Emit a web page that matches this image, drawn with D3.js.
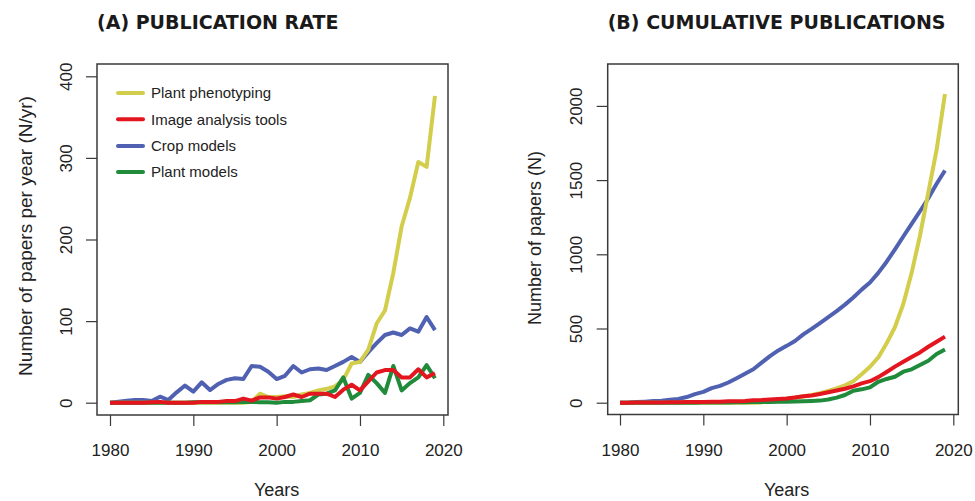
<!DOCTYPE html>
<html>
<head>
<meta charset="utf-8">
<script src="https://cdn.jsdelivr.net/npm/d3@7"></script>
<style>
  body { margin: 0; background: #fff; }
  svg { display: block; }
  text { font-family: "Liberation Sans", Arial, sans-serif; fill: #222; }
  .title { font-family: "DejaVu Sans", Verdana, sans-serif; font-weight: bold; font-size: 19px; fill: #1a1a1a; }
</style>
</head>
<body>
<div id="chart"></div>
<script>
// Years on the x axis.
var years = d3.range(1980, 2020);

// Series names, in legend order.
var seriesNames = ['Plant phenotyping', 'Image analysis tools', 'Crop models', 'Plant models'];
var seriesColors = ['#d3cd4c', '#e3151f', '#5061b1', '#1f8b3b'];

// (A) papers per year, 1980..2019.
var rateA = [
  // Plant phenotyping
  [0,0,0,0,0,0,0,0,0,0, 0,0,0,0,0,0,0,1,11,7, 7,8,7,10,12,15,17,20,28,48, 50,65,97,113,159,216,251,295,289,376],
  // Image analysis tools
  [0,0,0,0,0,0.5,1,0,0,0, 0,1,1,1,2,2,5,2.5,6.5,6.5, 5,7,10,7,11,11,11,7,16,22, 15,26,37,40,40,31,31,41,31,36],
  // Crop models
  [0,1.2,2.5,3.3,3.3,2,7.4,3.3,12.7,21, 13.5,25,15.5,23,28,30,29,45,44,38, 29,33,45,37,41,42,40,45,50,56, 50,62,73,83,86,83,91,87,105,89],
  // Plant models
  [0,0,0,0,0,0,0,0,0,0, 0.5,0.5,0.5,0.5,0.5,0.5,1,1,0.5,0.5, 0,1,1,2,3,10,11,15,31,5, 12,34,24,12,45,15,24,31,46,30]
];

// (B) cumulative papers, 1980..2019.
var cumB = [
  [0,0,0,0,0,0,0,0,0,0, 0,0,0,0,0,0,0,2,13,20, 27,35,42,52,64,80,97,117,145,192, 242,305,400,510,665,875,1125,1415,1705,2080],
  [0,0,1,1,2,2,3,3,4,4, 5,6,7,9,10,12,16,18,22,25, 29,35,43,49,59,70,82,94,110,130, 145,172,207,243,276,308,339,377,411,445],
  [0,1,4,7,11,13,20,25,38,58, 73,98,113,136,165,195,225,270,314,352, 383,416,460,497,537,577,617,661,709,762, 810,875,950,1033,1120,1205,1290,1378,1475,1565],
  [0,0,0,0,0,0,0,0,0,0, 1,1,2,2,3,3,4,5,5,6, 7,8,9,11,14,22,34,52,81,90, 103,141,160,175,209,225,254,283,328,359]
];

var xTicks = [1980, 1990, 2000, 2010, 2020];
var yTicksA = [0, 100, 200, 300, 400];
var yTicksB = [0, 500, 1000, 1500, 2000];

// Drawing order: crop models under, image analysis tools on top.
var drawOrder = [2, 0, 3, 1];

var WIDTH = 975, HEIGHT = 501;

var svg = d3.select('#chart').append('svg')
  .attr('width', WIDTH)
  .attr('height', HEIGHT);

function panel(opts) {
  var g = svg.append('g');
  var x = d3.scaleLinear().domain([1980, 2020]).range([opts.x0, opts.x1]);
  var y = d3.scaleLinear().domain([0, opts.ymax]).range([opts.y0, opts.y1]);

  // Lines
  var line = d3.line()
    .x(function(d, i) { return x(years[i]); })
    .y(function(d) { return y(d); });
  drawOrder.forEach(function(k) {
    g.append('path')
      .datum(opts.data[k])
      .attr('d', line)
      .attr('fill', 'none')
      .attr('stroke', seriesColors[k])
      .attr('stroke-width', 4)
      .attr('stroke-linejoin', 'round');
  });

  // Box
  g.append('rect')
    .attr('x', opts.box[0]).attr('y', opts.box[1])
    .attr('width', opts.box[2] - opts.box[0])
    .attr('height', opts.box[3] - opts.box[1])
    .attr('fill', 'none')
    .attr('stroke', '#3a3a3a')
    .attr('stroke-width', 1.5);

  // x axis
  var xa = g.append('g')
    .attr('transform', 'translate(0,' + opts.box[3] + ')')
    .call(d3.axisBottom(x).tickValues(xTicks).tickSize(11).tickFormat(d3.format('d')));
  xa.select('.domain').remove();
  xa.selectAll('line').attr('stroke', '#3a3a3a').attr('stroke-width', 1.2);
  xa.selectAll('text')
    .attr('y', 0).attr('dy', 0)
    .attr('transform', 'translate(0,41)')
    .style('font-size', '17px');

  // y axis
  var ya = g.append('g')
    .attr('transform', 'translate(' + opts.box[0] + ',0)')
    .call(d3.axisLeft(y).tickValues(opts.yTicks).tickSize(11).tickFormat(d3.format('d')));
  ya.select('.domain').remove();
  ya.selectAll('line').attr('stroke', '#3a3a3a').attr('stroke-width', 1.2);
  ya.selectAll('text')
    .attr('x', 0).attr('dy', 0)
    .attr('y', -opts.tickLabelGap)
    .attr('text-anchor', 'middle')
    .attr('transform', 'rotate(-90)')
    .style('font-size', '17px');

  // Axis titles
  g.append('text')
    .attr('transform', 'translate(' + opts.ytitleX + ',' + opts.ytitleY + ') rotate(-90)')
    .attr('text-anchor', 'middle')
    .style('font-size', opts.ytitleSize)
    .text(opts.ytitle);
  g.append('text')
    .attr('x', (opts.x0 + opts.x1) / 2)
    .attr('y', 496)
    .attr('text-anchor', 'middle')
    .style('font-size', '18px')
    .text('Years');

  // Panel title
  g.append('text')
    .attr('class', 'title')
    .attr('x', opts.box[0])
    .attr('y', 29)
    .text(opts.title);

  return g;
}

var gA = panel({
  x0: 110, x1: 443.3, y0: 402.7, y1: 76.3, ymax: 400,
  box: [97, 64, 448, 415],
  yTicks: yTicksA, tickLabelGap: 25,
  data: rateA,
  ytitle: 'Number of papers per year (N/yr)', ytitleX: 32, ytitleY: 236, ytitleSize: '19px',
  title: '(A) PUBLICATION RATE'
});

panel({
  x0: 620, x1: 953.3, y0: 402.7, y1: 105.9, ymax: 2000,
  box: [607.7, 64, 958.3, 414.5],
  yTicks: yTicksB, tickLabelGap: 26,
  data: cumB,
  ytitle: 'Number of papers (N)', ytitleX: 541, ytitleY: 238, ytitleSize: '18px',
  title: '(B) CUMULATIVE PUBLICATIONS'
});

// Legend in panel A
var legend = gA.append('g');
var legendY = [93, 119.3, 146, 172];
seriesNames.forEach(function(name, i) {
  legend.append('line')
    .attr('x1', 118).attr('x2', 143)
    .attr('y1', legendY[i]).attr('y2', legendY[i])
    .attr('stroke', seriesColors[i])
    .attr('stroke-width', 4)
    .attr('stroke-linecap', 'round');
  legend.append('text')
    .attr('x', 151)
    .attr('y', legendY[i])
    .attr('dy', '0.35em')
    .style('font-size', '15px')
    .text(name);
});
</script>
</body>
</html>
